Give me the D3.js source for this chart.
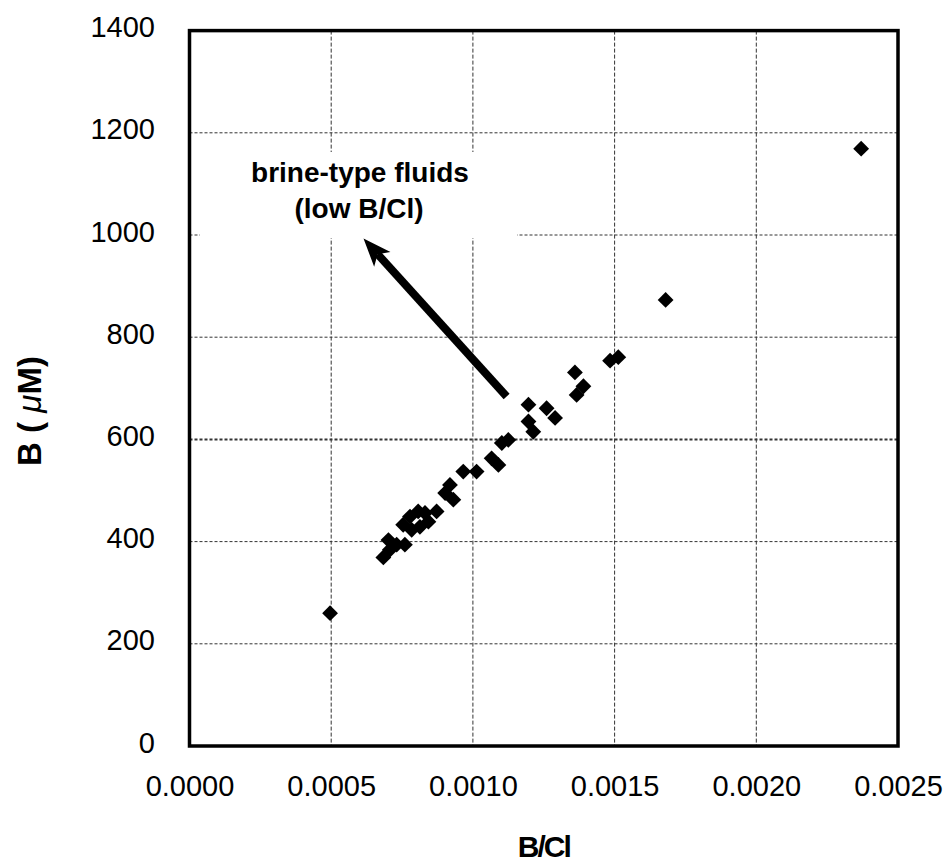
<!DOCTYPE html>
<html>
<head>
<meta charset="utf-8">
<script src="https://cdn.jsdelivr.net/npm/d3@7"></script>
<style>
  body { margin: 0; background: #fff; }
  text { font-family: "Liberation Sans", Arial, Helvetica, sans-serif; }
</style>
</head>
<body>
<svg id="chart" width="946" height="865"></svg>
<script>
// ---- data ----
var xTicks = [0, 0.0005, 0.0010, 0.0015, 0.0020, 0.0025];
var yTicks = [0, 200, 400, 600, 800, 1000, 1200, 1400];

// B/Cl ratio (x) and B in uM (y), one entry per sample
var bcl = [0.000496, 0.000684, 0.000707, 0.000702, 0.000731, 0.000760, 0.000754,
           0.000784, 0.000778, 0.000807, 0.000813, 0.000831, 0.000843, 0.000872,
           0.000902, 0.000919, 0.000931, 0.000966, 0.001013, 0.001066, 0.001090,
           0.001102, 0.001125, 0.001196, 0.001196, 0.001213, 0.001260, 0.001290,
           0.001360, 0.001390, 0.001366, 0.001484, 0.001513, 0.001680, 0.002370];
var boron = [260, 369, 384, 403, 394, 394, 433,
             423, 449, 459, 429, 456, 439, 459,
             495, 511, 482, 537, 537, 563, 550,
             593, 599, 668, 635, 615, 661, 642,
             731, 704, 687, 754, 761, 873, 1169];

// annotation arrow, data units: from near the trend to the "low B/Cl" corner
var arrowFrom = [0.001119, 684];
var arrowTo = [0.000614, 993];

// ---- layout ----
var svg = d3.select("#chart");
var plotL = 189.5, plotR = 898, plotT = 30.6, plotB = 746;

var x = d3.scaleLinear().domain([0, 0.0025]).range([plotL, plotR]);
var y = d3.scaleLinear().domain([0, 1400]).range([plotB, plotT]);

// grid lines (dashed), skipping the ones on the frame
svg.append("g")
    .selectAll("line")
    .data(xTicks.slice(1, -1))
    .join("line")
    .attr("x1", function(d) { return x(d); })
    .attr("x2", function(d) { return x(d); })
    .attr("y1", plotT)
    .attr("y2", plotB)
    .attr("stroke", "#333")
    .attr("stroke-width", 1)
    .attr("stroke-dasharray", "4,2");

svg.append("g")
    .selectAll("line")
    .data(yTicks.slice(1, -1))
    .join("line")
    .attr("x1", plotL)
    .attr("x2", plotR)
    .attr("y1", function(d) { return y(d); })
    .attr("y2", function(d) { return y(d); })
    .attr("stroke", "#333")
    .attr("stroke-width", function(d) { return d === 600 ? 2 : 1; })
    .attr("stroke-dasharray", "3,2");

// white box behind the annotation text
svg.append("rect")
    .attr("x", 200).attr("y", 152)
    .attr("width", 317).attr("height", 86)
    .attr("fill", "#fff");

// frame
svg.append("rect")
    .attr("x", plotL).attr("y", plotT)
    .attr("width", plotR - plotL).attr("height", plotB - plotT)
    .attr("fill", "none")
    .attr("stroke", "#000")
    .attr("stroke-width", 3.5);

// axes: only labels, the frame carries the lines
var xAxis = svg.append("g")
    .attr("transform", "translate(0," + plotB + ")")
    .call(d3.axisBottom(x).tickValues(xTicks).tickSize(0).tickPadding(0)
        .tickFormat(d3.format(".4f")));
xAxis.select(".domain").remove();
xAxis.selectAll("text")
    .attr("y", 50).attr("dy", null)
    .style("font-size", "29px")
    .style("font-family", "'Liberation Sans', Arial, sans-serif")
    .attr("fill", "#000");

var yAxis = svg.append("g")
    .attr("transform", "translate(155,0)")
    .call(d3.axisLeft(y).tickValues(yTicks).tickSize(0).tickPadding(0)
        .tickFormat(d3.format("d")));
yAxis.select(".domain").remove();
yAxis.selectAll("text")
    .attr("x", 0).attr("dy", 6)
    .style("font-size", "29px")
    .style("font-family", "'Liberation Sans', Arial, sans-serif")
    .attr("fill", "#000");

// axis titles
svg.append("text")
    .attr("x", (plotL + plotR) / 2)
    .attr("y", 857)
    .attr("text-anchor", "middle")
    .style("font-size", "30px")
    .style("font-weight", "bold")
    .style("letter-spacing", "-2px")
    .text("B/Cl");

var yTitle = svg.append("text")
    .attr("transform", "translate(41,411) rotate(-90)")
    .attr("text-anchor", "middle")
    .style("font-size", "33px")
    .style("font-weight", "bold");
yTitle.append("tspan").text("B ( ");
yTitle.append("tspan").style("font-style", "italic").style("font-weight", "normal").text("\u03bc");
yTitle.append("tspan").text("M)");

// points
var diamond = d3.symbol().type(d3.symbolSquare).size(125);
svg.append("g")
    .selectAll("path")
    .data(d3.range(bcl.length))
    .join("path")
    .attr("d", diamond)
    .attr("transform", function(i) {
        return "translate(" + x(bcl[i]) + "," + y(boron[i]) + ") rotate(45)";
    })
    .attr("fill", "#000");

// arrow
var sx = x(arrowFrom[0]), sy = y(arrowFrom[1]);
var tx = x(arrowTo[0]), ty = y(arrowTo[1]);
var len = Math.hypot(tx - sx, ty - sy);
var ux = (tx - sx) / len, uy = (ty - sy) / len;
var nx = -uy, ny = ux;
var headLen = 28, headHalf = 11;
var notch = [tx - ux * headLen * 0.75, ty - uy * headLen * 0.75];

svg.append("line")
    .attr("x1", sx).attr("y1", sy)
    .attr("x2", notch[0]).attr("y2", notch[1])
    .attr("stroke", "#000")
    .attr("stroke-width", 8);

svg.append("path")
    .attr("d", d3.line()([
        [tx, ty],
        [tx - ux * headLen + nx * headHalf, ty - uy * headLen + ny * headHalf],
        notch,
        [tx - ux * headLen - nx * headHalf, ty - uy * headLen - ny * headHalf]
    ]) + "Z")
    .attr("fill", "#000");

// annotation text
var note = svg.append("text")
    .attr("text-anchor", "middle")
    .style("font-size", "28px")
    .style("font-weight", "bold");
note.append("tspan").attr("x", 360).attr("y", 182).text("brine-type fluids");
note.append("tspan").attr("x", 359).attr("y", 218).text("(low B/Cl)");
</script>
</body>
</html>
